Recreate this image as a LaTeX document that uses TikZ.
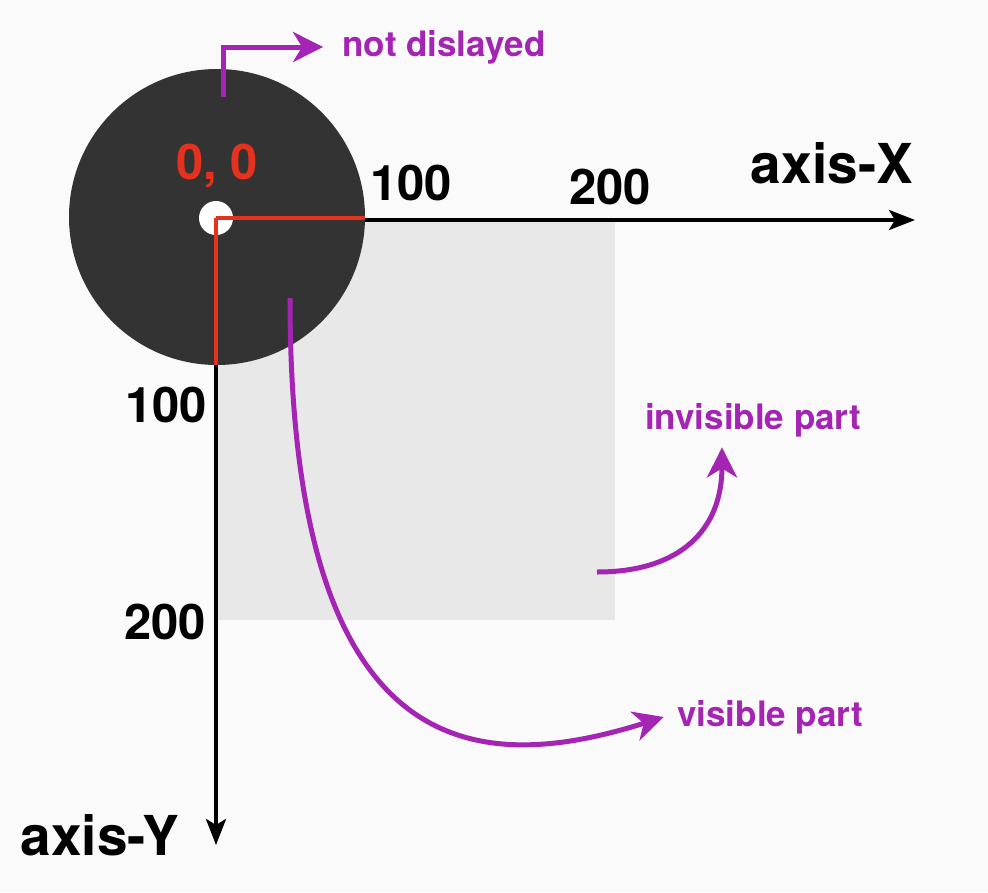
\documentclass[tikz,border=0pt]{standalone}
\usepackage{fontspec}
\setmainfont{TeX Gyre Heros}
\usetikzlibrary{arrows.meta}
\usetikzlibrary{positioning}
\definecolor{dark}{HTML}{333333}
\definecolor{pale}{HTML}{E8E8E8}
\definecolor{paper}{HTML}{FAFAFA}
\definecolor{ored}{HTML}{E5321F}
\definecolor{violet}{HTML}{A424B4}
\tikzset{axis/.style={line width=4pt,-{Stealth[length=26pt,width=20pt,inset=6pt]}},
originline/.style={line width=4pt,draw=ored},
note/.style={line width=5pt,draw=violet,-{Stealth[length=30pt,width=30pt,inset=9pt]}},
tick/.style={font=\fontsize{49}{52}\selectfont\bfseries},
axislabel/.style={font=\fontsize{55}{58}\selectfont\bfseries},
notelabel/.style={font=\fontsize{35}{40}\selectfont\bfseries,text=violet}}

\begin{document}
\begin{tikzpicture}[x=1pt,y=-1pt]
\fill[paper] (0,0) rectangle (988,892);
\useasboundingbox (0,0) rectangle (988,892);
\fill[pale] (216,220) rectangle (615,620);

\node (view) at (217,217) [circle,fill=dark,minimum size=296pt,inner sep=0pt] {};
\coordinate (o) at (216,218);
\node (dot) at (o) [circle,fill=white,minimum size=34pt,inner sep=0pt] {};
\draw[originline] (o) -- (o -| view.east);
\draw[originline] (o) -- (o |- view.south);

\coordinate (xend) at (915,220);
\coordinate (yend) at (216,845);
\draw[axis] (view.east |- xend) -- (xend);
\draw[axis] (o |- view.south) -- (yend);

\node (zero) at (217,166) [tick,text=ored] {0, 0};
\node (x100) at (411,183) [tick] {100};
\node (x200) at (610,187) [tick] {200};
\node (y100) at (166,405) [tick] {100};
\node (y200) at (165,622) [tick] {200};
\node (axisx) at (832,163) [axislabel] {axis-X};
\node (axisy) at (100,835) [axislabel] {axis-Y};

\node (hidden) at (444,47) [notelabel] {not dislayed};
\node (invisible) at (753,420) [notelabel] {invisible part};
\node (visible) at (770,717) [notelabel] {visible part};

\coordinate (hidestart) at (223,97);
\coordinate (vstart) at (290,298);
\coordinate (istart) at (597,572);
\draw[note] (hidestart) |- ([xshift=-16pt]hidden.west);
\draw[note] (vstart) .. controls (290,770) and (480,775) .. ([xshift=-10pt]visible.west);
\draw[note] (istart) .. controls (680,572) and (722,530) .. ([xshift=-31pt,yshift=-7pt]invisible.south);

\end{tikzpicture}
\end{document}
